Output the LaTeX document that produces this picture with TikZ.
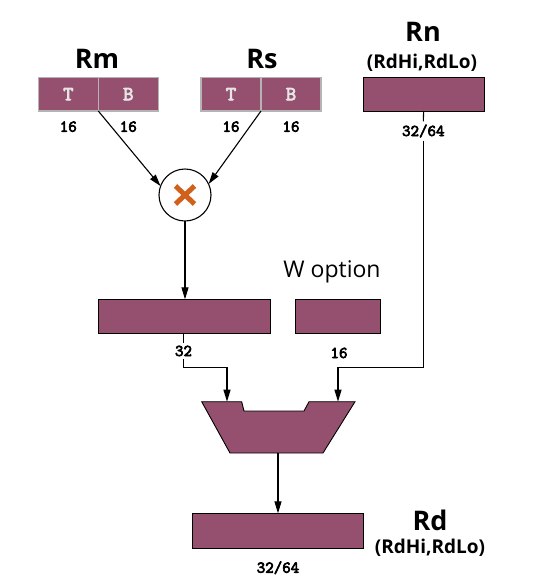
\documentclass[tikz,border=0pt]{standalone}
\usepackage{fontspec}
\setmainfont{Open Sans}
\newfontfamily\mymono[FakeBold=4]{Latin Modern Mono}
\usetikzlibrary{arrows.meta}
\definecolor{reg}{HTML}{955070}
\definecolor{mulx}{HTML}{D0601A}
\definecolor{splitline}{HTML}{B4B4B4}
\begin{document}
\begin{tikzpicture}[x=1pt,y=-1pt,
  regbox/.style={draw=black, fill=reg, line width=0.9pt, inner sep=0pt, outer sep=0pt, anchor=north west},
  halfbox/.style={draw=splitline, fill=reg, line width=1.1pt, inner sep=0pt, outer sep=0pt, anchor=north west,
    minimum width=60pt, minimum height=33.7pt, text=black!10, font=\mymono\fontsize{20}{20}\selectfont},
  bigname/.style={font=\bfseries\fontsize{27}{30}\selectfont, anchor=base, inner sep=0pt},
  subname/.style={font=\bfseries\fontsize{19}{22}\selectfont, anchor=base, inner sep=0pt},
  numlab/.style={font=\mymono\fontsize{16.5}{16.5}\selectfont, anchor=base, inner sep=3pt},
  conn/.style={line width=1.1pt},
  arr/.style={conn, -{Triangle[length=12pt,width=7pt]}}]
\useasboundingbox (0,0) rectangle (545,579);

% source registers
\node[bigname] (rmname) at (97,68) {Rm};
\node[halfbox] (rmT) at (38.3,77.3) {T};
\node[halfbox] (rmB) at (98.3,77.3) {B};
\node[numlab] (rm16a) at (68.3,131.7) {16};
\node[numlab] (rm16b) at (128.3,131.7) {16};

\node[bigname] (rsname) at (262,68) {Rs};
\node[halfbox] (rsT) at (201,77.3) {T};
\node[halfbox] (rsB) at (261,77.3) {B};
\node[numlab] (rs16a) at (231,131.7) {16};
\node[numlab] (rs16b) at (291,131.7) {16};

\node[bigname] (rnname) at (423,41.7) {Rn};
\node[subname] (rnsub) at (422,68.3) {(RdHi,RdLo)};
\node[regbox, minimum width=120.7pt, minimum height=33.7pt] (rn) at (363.3,77.3) {};
\node[numlab] (rn3264) at (423.3,136) {32/64};

% multiplier
\node[draw=black, line width=1.1pt, circle, minimum size=52pt, inner sep=0pt, outer sep=0pt, fill=white] (mul) at (185,195) {};
\draw[mulx, line width=5pt] ([shift={(-9.5,-9)}]mul.center) -- ([shift={(9.5,9)}]mul.center);
\draw[mulx, line width=5pt] ([shift={(-9.5,9)}]mul.center) -- ([shift={(9.5,-9)}]mul.center);

% intermediate
\node[font=\fontsize{23}{26}\selectfont, anchor=base, inner sep=0pt] (wopt) at (332,277) {W option};
\node[regbox, minimum width=171.7pt, minimum height=34pt] (p1) at (98.3,299.3) {};
\node[regbox, minimum width=85.7pt, minimum height=34pt] (p2) at (295,299.3) {};
\node[numlab] (p32) at (183.5,356) {32};
\node[numlab] (p16) at (339,358) {16};

% adder (mux-shaped)
\coordinate (mTL) at (201.7,401.7);
\coordinate (mTR) at (355,401.7);
\coordinate (mBR) at (323,453);
\coordinate (mBL) at (230,453);
\coordinate (muxinL) at (227,401.7);
\coordinate (muxinR) at (338,401.7);
\coordinate (muxout) at (278,453);
\coordinate (jL) at (184,367.5);
\draw[fill=reg, line width=0.9pt, line join=miter] (mTL) -- (241.7,401.7) -- (244,411) -- (304,411) -- (309,401.7) -- (mTR) -- (mBR) -- (mBL) -- cycle;

% result
\node[regbox, minimum width=170.3pt, minimum height=34.7pt] (rd) at (192.7,513.3) {};
\node[bigname] (rdname) at (430,530) {Rd};
\node[subname] (rdsub) at (430,553.3) {(RdHi,RdLo)};
\node[numlab] (rd3264) at (278,572.7) {32/64};

% connectors
\draw[arr] (rmT.south east) -- (mul.160);
\draw[arr] (rsT.south east) -- (mul.25);
\draw[arr] (mul.south) -- (mul.south |- p1.north);
\draw[conn] (rn.south) -- (rn3264.north);
\draw[arr] (rn3264.south) |- (muxinR |- jL) -- (muxinR);
\draw[conn] (p32.north |- p1.south) -- (p32.north);
\draw[arr] (p32.south) |- (muxinL |- jL) -- (muxinL);
\draw[arr] (muxout) -- (muxout |- rd.north);
\end{tikzpicture}
\end{document}
